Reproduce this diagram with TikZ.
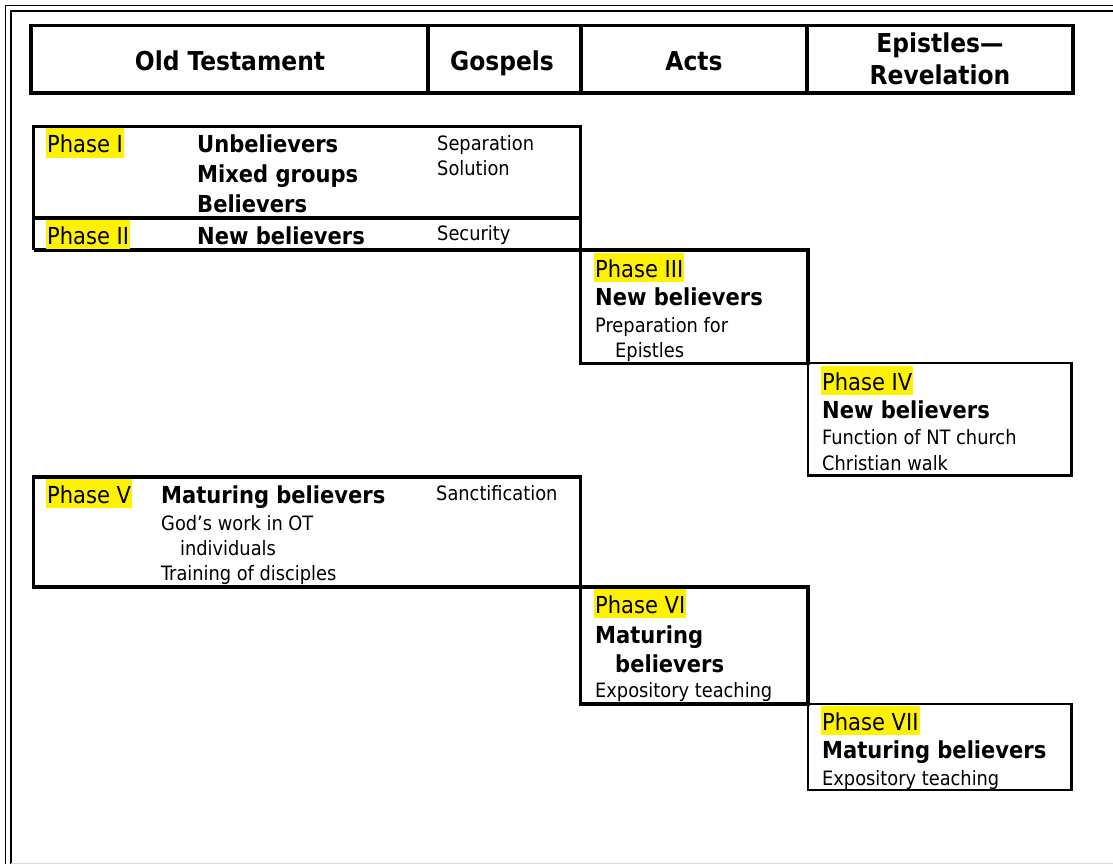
\documentclass[tikz,border=0pt]{standalone}
\usepackage{fontspec}
\setmainfont{DejaVu Sans Condensed}
\tikzset{
    headText/.style={anchor=base, inner sep=0pt, font=\fontsize{26}{32}\selectfont\bfseries},
    phaseTag/.style={anchor=base west, fill=yellow, inner xsep=1pt, inner ysep=0pt, text height=24.5pt, text depth=5pt, font=\fontsize{23.4}{28}\selectfont},
    whoText/.style={anchor=base west, inner sep=0pt, font=\fontsize{23.4}{28}\selectfont\bfseries},
    noteText/.style={anchor=base west, inner sep=0pt, font=\fontsize{19.8}{25}\selectfont},
    thickCell/.style={draw=black, line width=3.4pt},
    thinCell/.style={draw=black, line width=2.3pt}
}
\begin{document}
\begin{tikzpicture}[x=1pt, y=-1pt]
    \useasboundingbox (0,0) rectangle (1113,864);

    % page frame
    \draw [line width=1.8pt] (5.5,864) -- (5.5,5.5) -- (1113,5.5);
    \draw [line width=2.2pt] (11.3,864) -- (11.3,11.3) -- (1113,11.3);
    \draw [black!15, line width=1pt] (11,863) -- (1113,863);

    % header row
    \draw [thickCell] (31,25.5) rectangle (1073,93);
    \draw [thickCell] (428,25.5) -- (428,93);
    \draw [thickCell] (581,25.5) -- (581,93);
    \draw [thickCell] (807,25.5) -- (807,93);
    \node (hdOT) [headText] at (230,71) {Old Testament};
    \node (hdGos) [headText] at (502,71) {Gospels};
    \node (hdActs) [headText] at (694,71) {Acts};
    \node (hdEp) [headText] at (940,53) {Epistles—};
    \node (hdRev) [headText] at (940,85) {Revelation};

    % phase cells
    \draw [thickCell] (33.5,126.5) rectangle (580.5,218);
    \draw [thinCell] (33.5,218) -- (33.5,250);
    \draw [thickCell] (33.5,250) -- (580.5,250) -- (580.5,218);
    \draw [thickCell] (580.5,250) rectangle (808,363.3);
    \draw [thinCell] (808,363.3) rectangle (1071.5,475.5);
    \draw [thickCell] (33.5,477) rectangle (580.5,587);
    \draw [thickCell] (580.5,587) rectangle (808,704);
    \draw [thinCell] (808,704) rectangle (1071.5,790.3);

    % Phase I
    \node (p1tag) [phaseTag] at (46,153) {Phase I};
    \node (p1a) [whoText] at (197,153) {Unbelievers};
    \node (p1b) [whoText] at (197,182) {Mixed groups};
    \node (p1c) [whoText] at (197,212) {Believers};
    \node (p1d) [noteText] at (437,150) {Separation};
    \node (p1e) [noteText] at (437,175) {Solution};

    % Phase II
    \node (p2tag) [phaseTag] at (46,244) {Phase II};
    \node (p2a) [whoText] at (197,244) {New believers};
    \node (p2b) [noteText] at (437,240.5) {Security};

    % Phase III
    \node (p3tag) [phaseTag] at (594,277) {Phase III};
    \node (p3a) [whoText] at (595,305) {New believers};
    \node (p3b) [noteText] at (595,332) {Preparation for};
    \node (p3c) [noteText] at (615,357) {Epistles};

    % Phase IV
    \node (p4tag) [phaseTag] at (821,390) {Phase IV};
    \node (p4a) [whoText] at (822,418) {New believers};
    \node (p4b) [noteText] at (822,444) {Function of NT church};
    \node (p4c) [noteText] at (822,470) {Christian walk};

    % Phase V
    \node (p5tag) [phaseTag] at (46,503) {Phase V};
    \node (p5a) [whoText] at (161,503) {Maturing believers};
    \node (p5b) [noteText] at (161,530) {God’s work in OT};
    \node (p5c) [noteText] at (180,555) {individuals};
    \node (p5d) [noteText] at (161,580) {Training of disciples};
    \node (p5e) [noteText] at (436,500) {Sanctification};

    % Phase VI
    \node (p6tag) [phaseTag] at (594,613) {Phase VI};
    \node (p6a) [whoText] at (595,643) {Maturing};
    \node (p6b) [whoText] at (615,672) {believers};
    \node (p6c) [noteText] at (595,697) {Expository teaching};

    % Phase VII
    \node (p7tag) [phaseTag] at (821,730) {Phase VII};
    \node (p7a) [whoText] at (822,758) {Maturing believers};
    \node (p7b) [noteText] at (822,785) {Expository teaching};

\end{tikzpicture}
\end{document}
